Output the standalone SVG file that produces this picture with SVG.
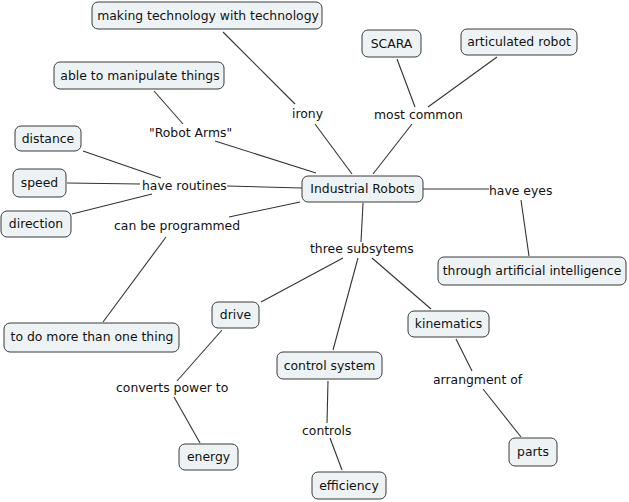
<svg xmlns="http://www.w3.org/2000/svg" width="629" height="502" viewBox="0 0 629 502">
<style>
.n rect{fill:#edf3f5;stroke:#3a3a3a;stroke-width:1}
text{font-family:"DejaVu Sans",Verdana,sans-serif;font-size:12.4px;fill:#111}
.n text{text-anchor:middle}
.c line{stroke:#333;stroke-width:1.1}
</style>
<rect width="629" height="502" fill="#fff"/>
<g class="c" id="connectors">
<line x1="223" y1="32" x2="295" y2="104"/>
<line x1="315" y1="124" x2="352" y2="174"/>
<line x1="154" y1="91" x2="183" y2="124"/>
<line x1="215" y1="141" x2="316" y2="173"/>
<line x1="83" y1="151" x2="161" y2="178"/>
<line x1="67" y1="183" x2="140" y2="184"/>
<line x1="72" y1="214" x2="152" y2="194"/>
<line x1="227" y1="186" x2="302" y2="188"/>
<line x1="300" y1="202" x2="229" y2="217"/>
<line x1="166" y1="237" x2="103" y2="322"/>
<line x1="397" y1="59" x2="415" y2="107"/>
<line x1="497" y1="57" x2="428" y2="107"/>
<line x1="412" y1="124" x2="373" y2="174"/>
<line x1="423" y1="189" x2="489" y2="189"/>
<line x1="521" y1="200" x2="529" y2="256"/>
<line x1="363" y1="203" x2="361" y2="242"/>
<line x1="343" y1="258" x2="261" y2="302"/>
<line x1="358" y1="258" x2="333" y2="350"/>
<line x1="372" y1="258" x2="431" y2="309"/>
<line x1="222" y1="330" x2="177" y2="381"/>
<line x1="174" y1="397" x2="200" y2="443"/>
<line x1="328" y1="381" x2="327" y2="423"/>
<line x1="330" y1="438" x2="342" y2="470"/>
<line x1="456" y1="339" x2="472" y2="371"/>
<line x1="483" y1="389" x2="521" y2="437"/>
</g>
<g id="labels">
<text x="292" y="118">irony</text>
<text x="149" y="137">"Robot Arms"</text>
<text x="142" y="190">have routines</text>
<text x="114" y="230">can be programmed</text>
<text x="374" y="119">most common</text>
<text x="489" y="195">have eyes</text>
<text x="310" y="253">three subsytems</text>
<text x="116" y="392">converts power to</text>
<text x="302" y="435">controls</text>
<text x="433" y="384">arrangment of</text>
</g>
<g class="n" id="n-making"><rect x="92" y="2" width="230" height="27" rx="6"/><text x="208" y="20">making technology with technology</text></g>
<g class="n" id="n-able"><rect x="54" y="62" width="170" height="27" rx="6"/><text x="140" y="80">able to manipulate things</text></g>
<g class="n" id="n-distance"><rect x="15" y="126" width="66" height="25" rx="6"/><text x="48" y="143">distance</text></g>
<g class="n" id="n-speed"><rect x="13" y="169" width="53" height="28" rx="6"/><text x="39.5" y="187">speed</text></g>
<g class="n" id="n-direction"><rect x="1" y="211" width="70" height="26" rx="6"/><text x="36" y="228">direction</text></g>
<g class="n" id="n-industrial"><rect x="302" y="176" width="121" height="26" rx="6"/><text x="362.5" y="193">Industrial Robots</text></g>
<g class="n" id="n-scara"><rect x="362" y="30" width="59" height="27" rx="6"/><text x="391.5" y="48">SCARA</text></g>
<g class="n" id="n-articulated"><rect x="461" y="29" width="116" height="26" rx="6"/><text x="519" y="46">articulated robot</text></g>
<g class="n" id="n-ai"><rect x="438" y="257" width="188" height="28" rx="6"/><text x="532" y="275">through artificial intelligence</text></g>
<g class="n" id="n-todo"><rect x="4" y="323" width="175" height="29" rx="6"/><text x="92" y="341">to do more than one thing</text></g>
<g class="n" id="n-drive"><rect x="212" y="302" width="47" height="26" rx="6"/><text x="235.5" y="319">drive</text></g>
<g class="n" id="n-control"><rect x="277" y="352" width="105" height="27" rx="6"/><text x="329.5" y="370">control system</text></g>
<g class="n" id="n-energy"><rect x="179" y="444" width="59" height="26" rx="6"/><text x="208.5" y="461">energy</text></g>
<g class="n" id="n-kinematics"><rect x="408" y="311" width="81" height="26" rx="6"/><text x="448.5" y="328">kinematics</text></g>
<g class="n" id="n-efficiency"><rect x="312" y="472" width="74" height="27" rx="6"/><text x="349" y="490">efficiency</text></g>
<g class="n" id="n-parts"><rect x="509" y="438" width="48" height="28" rx="6"/><text x="533" y="456">parts</text></g>
</svg>
